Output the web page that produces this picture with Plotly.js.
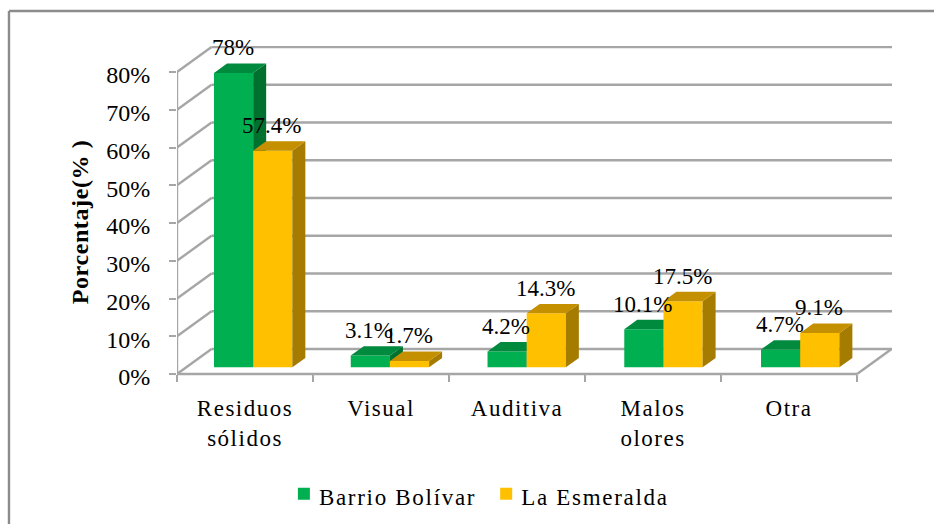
<!DOCTYPE html>
<html>
<head>
<meta charset="utf-8">
<script src="https://cdn.plot.ly/plotly-3.0.1.min.js"></script>
<style>
html,body{margin:0;padding:0;background:#fff}
#c{width:934px;height:524px}
.xtick text{letter-spacing:1.5px}
.legendtext{letter-spacing:1.7px}
.ytitle{letter-spacing:0.6px}
</style>
</head>
<body>
<div id="c"></div>
<script>
const categories = ["Residuos<br>sólidos","Visual","Auditiva","Malos<br>olores","Otra"];
const barrio = [78,3.1,4.2,10.1,4.7];
const esmeralda = [57.4,1.7,14.3,17.5,9.1];
const gridValues = [0,10,20,30,40,50,60,70,80];
const seriesNames = ["Barrio Bolívar","La Esmeralda"];

const font = "'Liberation Serif','Times New Roman',serif";
const GRAY = "#a6a6a6";
const XMAX = 5.257, YMAX = 86.9, YMIN = -6.36;
const wallDx = 0.2537, wallDy = 6.62;     // depth of the floor
const barDx = 0.0956, barDy = 2.5;        // depth of a bar
const barBase = 1.77, barW = 0.288, pitch = 1.0055;
const offs = [0.416, 0.704];
const styles = [
  {front:"#00b050", top:"#008a3e", side:"#00702f"},
  {front:"#ffc000", top:"#c49000", side:"#a57c00"}
];

function polyTraces(vals, k, xa, ya){
  const sx=[], sy=[], tx=[], ty=[];
  vals.forEach((v,i)=>{
    const c=i*pitch+offs[k], l=c-barW/2, r=c+barW/2, top=barBase+v;
    sx.push(r,r+barDx,r+barDx,r,r,null);
    sy.push(barBase,barBase+barDy,top+barDy,top,barBase,null);
    tx.push(l,l+barDx,r+barDx,r,l,null);
    ty.push(top,top+barDy,top+barDy,top,top,null);
  });
  const mk=(x,y,col)=>({type:"scatter",mode:"lines",x,y,xaxis:xa,yaxis:ya,fill:"toself",fillcolor:col,
    line:{width:0,color:col},hoverinfo:"skip",showlegend:false});
  return [mk(sx,sy,styles[k].side),mk(tx,ty,styles[k].top)];
}
function barTrace(vals,k,xa,ya){
  return {type:"bar",name:seriesNames[k],x:vals.map((_,i)=>i*pitch+offs[k]),y:vals,base:vals.map(()=>barBase),
    width:barW,xaxis:xa,yaxis:ya,marker:{color:styles[k].front,line:{width:0}},hoverinfo:"skip"};
}
const data=[
  barTrace(barrio,0,"x","y"),...polyTraces(barrio,0,"x","y"),
  barTrace(esmeralda,1,"x2","y2"),...polyTraces(esmeralda,1,"x2","y2")
];

const line=(x0,y0,x1,y1)=>({type:"line",xref:"x",yref:"y",x0,y0,x1,y1,layer:"below",line:{color:GRAY,width:2.4}});
const shapes=[];
gridValues.forEach(g=>{
  shapes.push(line(wallDx,g+wallDy,XMAX,g+wallDy));
  shapes.push(line(0,g,wallDx,g+wallDy));
});
shapes.push(line(0,0,0,80));
shapes.push(line(0,0,5,0));
shapes.push(line(5,0,5+wallDx,wallDy));
const BORDER={color:"#8c8c8c",width:2.4};
shapes.push({type:"line",xref:"paper",yref:"paper",x0:-0.235,x1:-0.235,y0:-0.358,y1:1.0994,line:BORDER});
shapes.push({type:"line",xref:"paper",yref:"paper",x0:-0.235,x1:1.0587,y0:1.0994,y1:1.0994,line:BORDER});

const annotations=[];
[barrio,esmeralda].forEach((vals,k)=>vals.forEach((v,i)=>{
  annotations.push({x:i*pitch+offs[k],y:barBase+v,xref:"x",yref:"y",text:v+"%",showarrow:false,
    yanchor:"middle",xanchor:"center",yshift:25,xshift:-1,font:{family:font,size:23,color:"#000"}});
}));

const layout={
  width:934,height:524,margin:{l:177,r:42,t:46,b:126,autoexpand:false},
  paper_bgcolor:"#fff",plot_bgcolor:"rgba(0,0,0,0)",
  barmode:"overlay",
  font:{family:font,color:"#000"},
  xaxis:{range:[0,XMAX],tickmode:"array",tickvals:categories.map((_,i)=>i+0.5),ticktext:categories,
    ticks:"",showgrid:false,zeroline:false,showline:false,tickangle:0,
    tickfont:{family:font,size:23,color:"#000"},ticklabelstandoff:-6},
  xaxis2:{range:[0,XMAX],overlaying:"x",anchor:"free",position:0.0682,side:"bottom",tickmode:"array",tickvals:[0,1,2,3,4,5],
    showticklabels:false,ticks:"outside",ticklen:7,tickwidth:2,tickcolor:GRAY,showgrid:false,zeroline:false,showline:false},
  yaxis:{range:[YMIN,YMAX],tickmode:"array",tickvals:gridValues,ticktext:gridValues.map(g=>g+"%"),
    ticks:"outside",ticklen:7,tickwidth:2,tickcolor:GRAY,showgrid:false,zeroline:false,showline:false,
    tickfont:{family:font,size:24,color:"#000"},ticklabelstandoff:14,
    title:{text:"<b>Porcentaje(% )</b>",font:{family:font,size:24,color:"#000"},standoff:10}},
  yaxis2:{range:[YMIN,YMAX],overlaying:"y",anchor:"x2",visible:false},
  legend:{orientation:"h",x:0.1495,xanchor:"left",xref:"paper",y:-0.2725,yanchor:"middle",font:{family:font,size:23,color:"#000"},bgcolor:"rgba(0,0,0,0)",itemclick:false,itemdoubleclick:false},
  shapes:shapes,annotations:annotations,showlegend:true
};
Plotly.newPlot("c",data,layout,{displayModeBar:false,staticPlot:true}).then(()=>{
  document.querySelectorAll(".ytick text").forEach(t=>t.setAttribute("dy","3"));
  document.querySelectorAll(".legendtext").forEach(t=>{
    t.setAttribute("x",String(parseFloat(t.getAttribute("x"))-5));
    t.setAttribute("dy","2");
  });
});
</script>
</body>
</html>
